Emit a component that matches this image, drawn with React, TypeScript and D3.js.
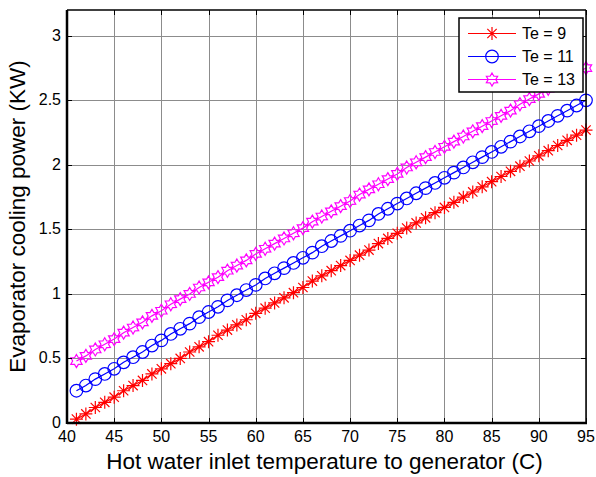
import React from "react";
import * as d3 from "d3";

// hot water inlet temperature (C)
const temps = [
  41, 42, 43, 44, 45, 46, 47, 48, 49, 50, 51, 52, 53, 54, 55, 56, 57, 58, 59, 60,
  61, 62, 63, 64, 65, 66, 67, 68, 69, 70, 71, 72, 73, 74, 75, 76, 77, 78, 79, 80,
  81, 82, 83, 84, 85, 86, 87, 88, 89, 90, 91, 92, 93, 94, 95,
];

// evaporator cooling power (KW)
const te9 = [
  0.03, 0.07, 0.12, 0.16, 0.2, 0.25, 0.29, 0.33, 0.38, 0.42, 0.46, 0.5, 0.55, 0.59, 0.63, 0.68, 0.72, 0.76, 0.8, 0.85,
  0.89, 0.93, 0.97, 1.01, 1.05, 1.1, 1.14, 1.18, 1.22, 1.26, 1.3, 1.34, 1.39, 1.43, 1.47, 1.51, 1.55, 1.59, 1.63, 1.67,
  1.71, 1.75, 1.79, 1.83, 1.87, 1.91, 1.95, 1.99, 2.03, 2.07, 2.11, 2.15, 2.19, 2.23, 2.27,
];
const te11 = [
  0.25, 0.29, 0.34, 0.38, 0.42, 0.47, 0.51, 0.55, 0.6, 0.64, 0.69, 0.73, 0.77, 0.82, 0.86, 0.9, 0.95, 0.99, 1.03, 1.07,
  1.12, 1.16, 1.2, 1.24, 1.28, 1.32, 1.37, 1.41, 1.45, 1.49, 1.53, 1.57, 1.62, 1.66, 1.7, 1.74, 1.78, 1.82, 1.86, 1.9,
  1.94, 1.98, 2.02, 2.06, 2.1, 2.14, 2.18, 2.22, 2.26, 2.3, 2.34, 2.38, 2.42, 2.46, 2.5,
];
const te13 = [
  0.48, 0.52, 0.57, 0.61, 0.65, 0.7, 0.74, 0.78, 0.83, 0.87, 0.92, 0.96, 1.0, 1.05, 1.09, 1.13, 1.18, 1.22, 1.26, 1.31,
  1.35, 1.39, 1.43, 1.47, 1.51, 1.56, 1.6, 1.64, 1.68, 1.72, 1.77, 1.81, 1.85, 1.89, 1.93, 1.98, 2.02, 2.06, 2.1, 2.14,
  2.18, 2.22, 2.26, 2.3, 2.34, 2.38, 2.42, 2.47, 2.51, 2.55, 2.59, 2.63, 2.67, 2.71, 2.75,
];

const xTicks = [40, 45, 50, 55, 60, 65, 70, 75, 80, 85, 90, 95];
const yTicks = [0, 0.5, 1, 1.5, 2, 2.5, 3];
const yTickLabels = ["0", "0.5", "1", "1.5", "2", "2.5", "3"];

const seriesNames = ["Te = 9", "Te = 11", "Te = 13"];
const seriesColors = ["#ff0000", "#0000ff", "#ff00ff"];
const seriesMarkers = ["asterisk", "circle", "hexagram"];
const seriesValues = [te9, te11, te13];

const W = 596;
const H = 477;
const margin = { top: 10, right: 10, bottom: 54, left: 67 };
const font = "'Liberation Sans', Arial, Helvetica, sans-serif";

// marker path centred on 0,0
function markerPath(kind: string) {
  if (kind === "asterisk") {
    const r = 6.5;
    const d = r * 0.72;
    return `M0,${-r}V${r}M${-r},0H${r}M${-d},${-d}L${d},${d}M${-d},${d}L${d},${-d}`;
  }
  if (kind === "circle") {
    return d3.symbol(d3.symbolCircle, Math.PI * 6.3 * 6.3)()!;
  }
  // six pointed star
  const pts: string[] = [];
  const ro = 6.5;
  const ri = 3.8;
  for (let i = 0; i < 12; i++) {
    const a = -Math.PI / 2 + (i * Math.PI) / 6;
    const r = i % 2 === 0 ? ro : ri;
    pts.push(`${(r * Math.cos(a)).toFixed(2)},${(r * Math.sin(a)).toFixed(2)}`);
  }
  return "M" + pts.join("L") + "Z";
}

export default function App() {
  const w = W - margin.left - margin.right;
  const h = H - margin.top - margin.bottom;

  const x = d3.scaleLinear().domain([40, 95]).range([margin.left, margin.left + w]);
  const y = d3.scaleLinear().domain([0, 3.2]).range([margin.top + h, margin.top]);

  const line = d3
    .line<number>()
    .x((d, i) => x(temps[i]))
    .y((d) => y(d));

  const left = margin.left;
  const right = margin.left + w;
  const top = margin.top;
  const bottom = margin.top + h;
  const tickLen = 5;

  // legend box
  const lg = { x: 459, y: 18, w: 124, h: 74 };

  return (
    <svg
      width={W}
      height={H}
      style={{ position: "absolute", left: 0, top: 0, background: "#fff" }}
      fontFamily={font}
    >
      <rect x={0} y={0} width={W} height={H} fill="#fff" />

      {/* grid */}
      <g stroke="#8c8c8c" strokeWidth={1}>
        {xTicks.map((t) => (
          <line key={"gx" + t} x1={Math.round(x(t)) + 0.5} x2={Math.round(x(t)) + 0.5} y1={top} y2={bottom} />
        ))}
        {yTicks.map((t) => (
          <line key={"gy" + t} x1={left} x2={right} y1={Math.round(y(t)) + 0.5} y2={Math.round(y(t)) + 0.5} />
        ))}
      </g>

      {/* series */}
      {seriesValues.map((vals, si) => (
        <g key={"s" + si} stroke={seriesColors[si]} fill="none" strokeWidth={1.2}>
          <path d={line(vals)!} />
          {vals.map((v, i) => (
            <path
              key={i}
              d={markerPath(seriesMarkers[si])}
              transform={`translate(${x(temps[i])},${y(v)})`}
            />
          ))}
        </g>
      ))}

      {/* ticks */}
      <g stroke="#000" strokeWidth={1}>
        {xTicks.map((t) => (
          <g key={"tx" + t}>
            <line x1={Math.round(x(t)) + 0.5} x2={Math.round(x(t)) + 0.5} y1={bottom} y2={bottom - tickLen} />
            <line x1={Math.round(x(t)) + 0.5} x2={Math.round(x(t)) + 0.5} y1={top} y2={top + tickLen} />
          </g>
        ))}
        {yTicks.map((t) => (
          <g key={"ty" + t}>
            <line x1={left} x2={left + tickLen} y1={Math.round(y(t)) + 0.5} y2={Math.round(y(t)) + 0.5} />
            <line x1={right} x2={right - tickLen} y1={Math.round(y(t)) + 0.5} y2={Math.round(y(t)) + 0.5} />
          </g>
        ))}
      </g>

      {/* axes box */}
      <line x1={left} x2={right} y1={top} y2={top} stroke="#000" strokeWidth={1.5} />
      <line x1={right} x2={right} y1={top} y2={bottom} stroke="#000" strokeWidth={1.5} />
      <line x1={left} x2={right + 1} y1={bottom} y2={bottom} stroke="#000" strokeWidth={2.5} />
      <line x1={left} x2={left} y1={top} y2={bottom + 1} stroke="#000" strokeWidth={2.5} />

      {/* tick labels */}
      <g fontSize={16} fill="#000">
        {xTicks.map((t) => (
          <text key={"lx" + t} x={x(t)} y={bottom + 19} textAnchor="middle">
            {t}
          </text>
        ))}
        {yTicks.map((t, i) => (
          <text key={"ly" + t} x={left - 6} y={y(t) + 5} textAnchor="end">
            {yTickLabels[i]}
          </text>
        ))}
      </g>

      {/* axis titles */}
      <text x={(left + right) / 2 - 2} y={469} textAnchor="middle" fontSize={22.5} fill="#000">
        Hot water inlet temperature to generator (C)
      </text>
      <text
        transform={`translate(25,${(top + bottom) / 2}) rotate(-90)`}
        textAnchor="middle"
        fontSize={22.5}
        fill="#000"
      >
        Evaporator cooling power (KW)
      </text>

      {/* legend */}
      <g>
        <rect x={lg.x} y={lg.y} width={lg.w} height={lg.h} fill="#fff" stroke="#000" strokeWidth={1.5} />
        {seriesNames.map((name, i) => {
          const ry = 33.5 + i * 23;
          return (
            <g key={"lg" + i}>
              <line x1={468} x2={516} y1={ry} y2={ry} stroke={seriesColors[i]} strokeWidth={1.2} />
              <path
                d={markerPath(seriesMarkers[i])}
                transform={`translate(492,${ry})`}
                stroke={seriesColors[i]}
                strokeWidth={1.2}
                fill="none"
              />
              <text x={522} y={ry + 5.5} fontSize={16} fill="#000">
                {name}
              </text>
            </g>
          );
        })}
      </g>
    </svg>
  );
}
